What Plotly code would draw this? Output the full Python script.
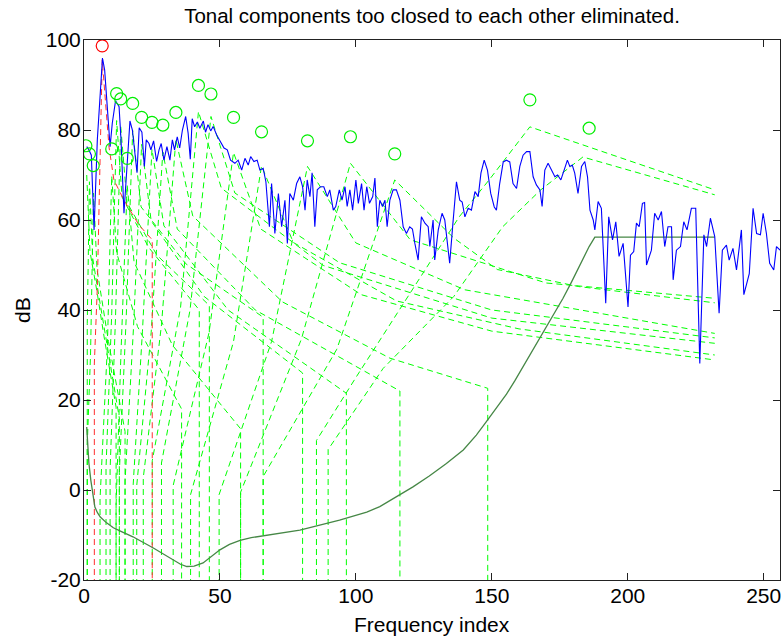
import plotly.graph_objects as go

# ---------------- data ----------------
blue_idx = [1, 1.8, 2.7, 3.7, 4.9, 5.9, 6.8, 7.6, 8.6, 9.6, 10.4, 11.6, 12.9, 13.6, 14.7, 15.9, 16.9, 17.8, 18.6, 19.5,
            20.3, 21.3, 22.2, 22.9, 23.9, 24.6, 25.6, 26.7, 27.6, 28.4, 29.4, 30.5, 31.6, 32.5, 33.3, 34.3, 35.2, 36.2, 37.4, 38.3,
            39.1, 39.8, 40.7, 41.7, 42.6, 43.9, 44.7, 45.6, 46.6, 47.5, 48.8, 50.2, 51.5, 52.7, 53.9, 55.5, 56.7, 58, 59.2, 60.4,
            61.3, 62.5, 63.7, 64.7, 65.9, 66.9, 68.2, 69, 70.2, 71.5, 72.7, 73.9, 74.8, 75.7, 77, 78.2, 79.4, 80.4, 81.3, 82.1,
            83.1, 83.9, 84.9, 85.8, 87, 88.2, 89.5, 90.4, 91.7, 92.6, 93.9, 94.9, 96, 96.8, 97.8, 98.8, 100, 100.9, 102.1, 103,
            104, 105, 106.2, 107, 107.9, 108.8, 109.8, 110.7, 111.5, 112.5, 113.7, 114.9, 116.2, 117.4, 118.6, 119.8, 120.8, 121.7, 122.9, 124.1,
            125.4, 126.6, 127.2, 128.4, 129, 130.3, 131.7, 132.7, 133.7, 134.5, 135.7, 137, 138.2, 139.1, 140.1, 141.3, 142.5, 143.8, 145, 146,
            147.2, 148.4, 149.6, 150.9, 151.7, 152.9, 154.2, 155.4, 156.6, 157.8, 159.1, 160.3, 161.5, 162.8, 164, 165.2, 166.4, 167.7, 168.5, 169.5,
            170.7, 172, 173.2, 174.2, 175.4, 176.6, 177.8, 178.7, 179.6, 180.5, 181.7, 183, 184.2, 185.2, 186.1, 187.3, 187.9, 189.1, 190.3, 191.9,
            193, 194.4, 195.6, 196.8, 198.3, 200.1, 201, 202.2, 203.2, 204.2, 205.4, 206.2, 206.9, 208.7, 209.9, 211.2, 212.4, 213.6, 214.8, 216.1,
            216.7, 217.9, 219.4, 220.6, 221.8, 223.4, 225, 226.5, 228, 229, 230.4, 232, 233.6, 234.8, 236.3, 237.3, 238.7, 240, 241.8, 242.7,
            244.7, 246.1, 247.4, 248.8, 249.8, 251, 252.2, 253.7, 254.7, 256]
blue_db = [76.3, 75.6, 74.4, 57.8, 77.8, 88.9, 96, 93.3, 85.2, 76.3, 81.5, 86.5, 85.2, 78, 61.5, 72.6, 82, 80, 75.6, 70.5,
           80.5, 79.5, 71.9, 77.8, 77, 75.6, 77.6, 73, 75.6, 77, 73.3, 76.3, 73.3, 77.8, 75.6, 78.5, 76, 80, 83, 79.3,
           73.5, 82.5, 80.7, 81.8, 80.4, 82, 79.5, 81.2, 79.8, 80.8, 78.9, 77.5, 76, 75.6, 73.3, 72.6, 73.3, 71.1, 73.7, 72.2,
           74.1, 73, 73.3, 71.1, 71.5, 68.5, 58.5, 68.1, 57, 65.9, 58.5, 64.4, 54.8, 65.9, 64.4, 68.1, 69.6, 67.4, 62.2, 68.9,
           65.2, 70.5, 58.5, 66.7, 67.4, 67.4, 65.2, 66.7, 62.2, 63, 66.7, 64.4, 67.4, 63, 66.7, 62.2, 68.9, 63.7, 68.1, 62.2,
           67.4, 63.7, 65.2, 69.3, 58.5, 64.4, 63, 64.4, 58.5, 64.4, 66.7, 66.7, 64.4, 58.5, 57, 58.5, 58, 54.8, 51.1, 60.7,
           59.3, 58.5, 54.1, 60, 51.1, 57.8, 61.5, 60, 54.1, 50.4, 59.3, 68.5, 64.4, 64, 60.7, 62.6, 62.2, 66.3, 65.2, 70.4,
           73.3, 71.1, 65.9, 62.9, 62.2, 68.1, 72.9, 73.3, 72.9, 68.1, 67, 71.9, 74.4, 75.2, 75.2, 69.6, 67.8, 66.7, 63, 71.1,
           72.6, 71.1, 69.6, 70, 68.9, 71.1, 73.3, 71.9, 72.2, 70.4, 65.9, 71.9, 73, 69.6, 62.2, 60, 57.8, 64.1, 62.6, 41.5,
           60.7, 55.6, 59.6, 51.9, 54.8, 40.7, 52.2, 53, 59.3, 58.5, 63.7, 63.9, 50, 53.3, 61.5, 60, 61.9, 54.1, 58.5, 58.5,
           46.7, 53.3, 54.1, 59.6, 57.8, 62.6, 62.6, 28.1, 56.7, 54.1, 60.4, 56.3, 39.3, 53.3, 54.4, 51.1, 53.7, 48.9, 57.8, 43.4,
           48.1, 62.6, 57, 56.7, 61.5, 57, 50.4, 48.9, 54.1, 53.3]

# absolute threshold of hearing
ltq_idx = [1, 1.8, 2.5, 3.2, 4, 5, 6, 8.3, 10.8, 14, 18, 25.5, 32.8, 35.5, 37.8, 40.5, 43.8, 46.5, 50, 53.5,
           57.4, 61.5, 66, 79.4, 94, 104, 108.8, 115, 121, 127, 133.3, 139.5, 144.3, 148, 151.7, 155.4, 158.5, 161.5, 164.5, 167.6,
           170, 172.5, 176.2, 179.3, 181.5, 183.6, 185.8, 187.9, 232]
ltq_db = [14, 6, 2.2, -1, -3.8, -5.1, -6, -7.3, -8.4, -9.3, -10.4, -12.9, -15.6, -16.5, -17, -16.9, -16.2, -14.9, -13.3, -12.1,
          -11.2, -10.6, -10.2, -8.9, -6.7, -4.9, -3.7, -1.5, 0.7, 3.1, 5.9, 8.9, 12.2, 15.2, 18.2, 21.3, 24.3, 27.4, 30.5, 33.6,
          36.1, 38.6, 42.6, 46.2, 49, 51.6, 54.1, 56.2, 56.2]

# tonal components (circles)
tonal_idx = [0.7, 2, 3.4, 10.2, 12, 13.5, 15.9, 17.9, 21.2, 25, 29, 33.8, 42.1, 46.7, 55, 65.3, 82.2, 98, 114.3, 164, 185.8]
tonal_db = [76.5, 74.7, 72.1, 75.8, 88.1, 86.9, 73.7, 85.9, 82.8, 81.7, 81.1, 83.9, 89.9, 88, 82.8, 79.6, 77.6, 78.5, 74.7, 86.7, 80.4]
red_idx = [6.7]
red_db = [98.7]

# masking curve of the red component
red_mask_idx = [3.8, 3.8, 4.9, 5.9, 6.7, 9.2, 11, 14.7, 20.2, 25.1, 25.1]
red_mask_db = [-30, 28, 45, 70, 95.6, 76.2, 68.9, 64.4, 58.9, 55.6, -30]

# individual masking curves of the other tonal components
mask_idx = [
    [1, 2.2, 4.8, 7.4, 11.8, 11.8],
    [1.2, 1.2, 2, 3.2, 5.5, 8, 13, 13],
    [1.2, 1.2, 2.4, 3.5, 4.8, 9, 15.1, 15.1],
    [5.9, 5.9, 8.6, 10.2, 12, 19.7, 35.9, 35.9],
    [8.1, 8.1, 10.2, 12, 14, 23.8, 42.4, 42.4],
    [9.6, 9.6, 11.6, 13.5, 15.8, 26.8, 46.1, 46.1],
    [11.8, 11.8, 13.6, 15.9, 18.4, 32.5, 57.6, 57.6],
    [13, 13, 15.5, 17.9, 21, 37.4, 65.9, 65.9],
    [15.1, 15.1, 18.2, 21.2, 24.7, 44.2, 80.4, 80.4],
    [18.1, 18.1, 21.5, 25, 29.4, 53, 96.5, 96.5],
    [19.4, 19.4, 24.7, 29, 34.3, 63, 116.2, 116.2],
    [21.8, 21.8, 28.5, 33.8, 40, 73, 112.5, 148.5, 148.5],
    [25.1, 25.1, 35.5, 42.1, 50.5, 88, 150, 232],
    [28.5, 28.5, 39, 46.7, 55.5, 94, 150, 232],
    [32.8, 32.8, 46, 55, 65, 102, 150, 232],
    [39.2, 39.2, 55, 65.3, 77, 115, 160, 232],
    [49.7, 49.7, 69, 82.2, 100, 140, 232],
    [57.6, 57.6, 80, 98, 120, 170, 232],
    [65.9, 65.9, 93, 114.3, 136, 152, 182, 232],
    [85.5, 85.5, 100, 116, 126, 138, 149, 164, 232],
    [89.8, 89.8, 110, 136, 154, 168, 183.5, 232],
]
mask_db = [
    [70, 53, 44, 34, 18.4, -30],
    [-30, 37, 68.5, 51.5, 43, 34, 16, -30],
    [-30, 10, 30, 66, 49, 33, 13, -30],
    [-30, -2, 31.8, 69.8, 52.8, 36.3, 18, -30],
    [-30, 5, 39.3, 82.1, 65.1, 53.9, 40, -30],
    [-30, 4.5, 38.5, 80.9, 63.9, 52.2, 41, -30],
    [-30, -3.5, 30.5, 67.7, 50.7, 32.2, 13.6, -30],
    [-30, 3.9, 37.9, 79.9, 62.9, 50.3, 38.4, -30],
    [-30, 2, 36, 76.8, 59.8, 43, 26, -30],
    [-30, 1.3, 35.3, 75.7, 58.7, 40, 21.5, -30],
    [-30, 1, 35, 75.1, 58, 40, 22, -30],
    [-30, 2.7, 36.7, 77.9, 60.9, 41.8, 29.3, 22.6, -30],
    [-30, 6.5, 40.5, 84.1, 67.1, 49.9, 38.2, 32.6],
    [-30, 6, 40, 83, 66, 50.5, 40, 33.8],
    [-30, 1, 35, 75, 58, 43.4, 35.3, 28.9],
    [-30, -1, 33, 72, 55, 42, 35.8, 30],
    [-30, -1, 33, 71.9, 54.9, 44.5, 34.8],
    [-30, -0.5, 33.6, 72.6, 55.6, 46, 42.6],
    [-30, 3, 31.3, 68.9, 56, 49, 45.2, 41.6],
    [-30, 11, 25, 40, 49.6, 60.7, 68.9, 80.7, 66.7],
    [-30, 9, 27, 43, 58.5, 66.7, 74, 65.6],
]

x_ticks = [0, 50, 100, 150, 200, 250]
x_tick_text = ["0", "50", "100", "150", "200", "250"]
y_ticks = [-20, 0, 20, 40, 60, 80, 100]
y_tick_text = ["-20", "0", "20", "40", "60", "80", "100"]

title_text = "Tonal components too closed to each other eliminated."
x_label = "Frequency index"
y_label = "dB"

# ---------------- figure ----------------
FONT = "Liberation Sans, Arial, Helvetica, sans-serif"
fig = go.Figure()

for xs, ys in zip(mask_idx, mask_db):
    fig.add_trace(go.Scatter(x=xs, y=ys, mode="lines",
                             line=dict(color="#00ff00", width=1, dash="6px,4px"),
                             hoverinfo="skip"))

fig.add_trace(go.Scatter(x=red_mask_idx, y=red_mask_db, mode="lines",
                         line=dict(color="#ff3030", width=1, dash="6px,4px"), hoverinfo="skip"))

fig.add_trace(go.Scatter(x=ltq_idx, y=ltq_db, mode="lines",
                         line=dict(color="rgb(70,135,70)", width=1.3)))

fig.add_trace(go.Scatter(x=blue_idx, y=blue_db, mode="lines",
                         line=dict(color="#0000ff", width=1.1)))

fig.add_trace(go.Scatter(x=tonal_idx, y=tonal_db, mode="markers",
                         marker=dict(symbol="circle-open", size=12, color="#00ee00",
                                     line=dict(width=1.2, color="#00ee00"))))
fig.add_trace(go.Scatter(x=red_idx, y=red_db, mode="markers",
                         marker=dict(symbol="circle-open", size=12, color="#ff0000",
                                     line=dict(width=1.2, color="#ff0000"))))

axis_common = dict(showgrid=False, zeroline=False, showline=True, linecolor="#222222", linewidth=1,
                   mirror="ticks", ticks="inside", ticklen=7, tickwidth=1, tickcolor="#222222",
                   tickfont=dict(family=FONT, size=21, color="black"))

fig.update_layout(
    width=782, height=639,
    margin=dict(l=84, r=2, t=40, b=59),
    paper_bgcolor="white", plot_bgcolor="white",
    showlegend=False,
    font=dict(family=FONT, size=21, color="black"),
    title=dict(text=title_text, x=0.5, xref="paper", xanchor="center",
               y=1 - 16 / 639, yref="container", yanchor="middle",
               font=dict(family=FONT, size=20.5, color="black")),
    xaxis=dict(range=[0, 256], tickvals=x_ticks, ticktext=x_tick_text, ticklabelstandoff=-3, **axis_common),
    yaxis=dict(range=[-20, 100], tickvals=y_ticks, ticktext=y_tick_text, ticklabelstandoff=-2, **axis_common),
    annotations=[
        dict(text=x_label, x=0.5, y=-(624 - 580) / 540, xref="paper", yref="paper",
             xanchor="center", yanchor="middle", showarrow=False,
             font=dict(family=FONT, size=21, color="black")),
        dict(text=y_label, x=(22 - 84) / 696, y=0.5, xref="paper", yref="paper",
             xanchor="center", yanchor="middle", showarrow=False, textangle=-90,
             font=dict(family=FONT, size=21, color="black")),
    ],
)

fig.write_html("out.html")
